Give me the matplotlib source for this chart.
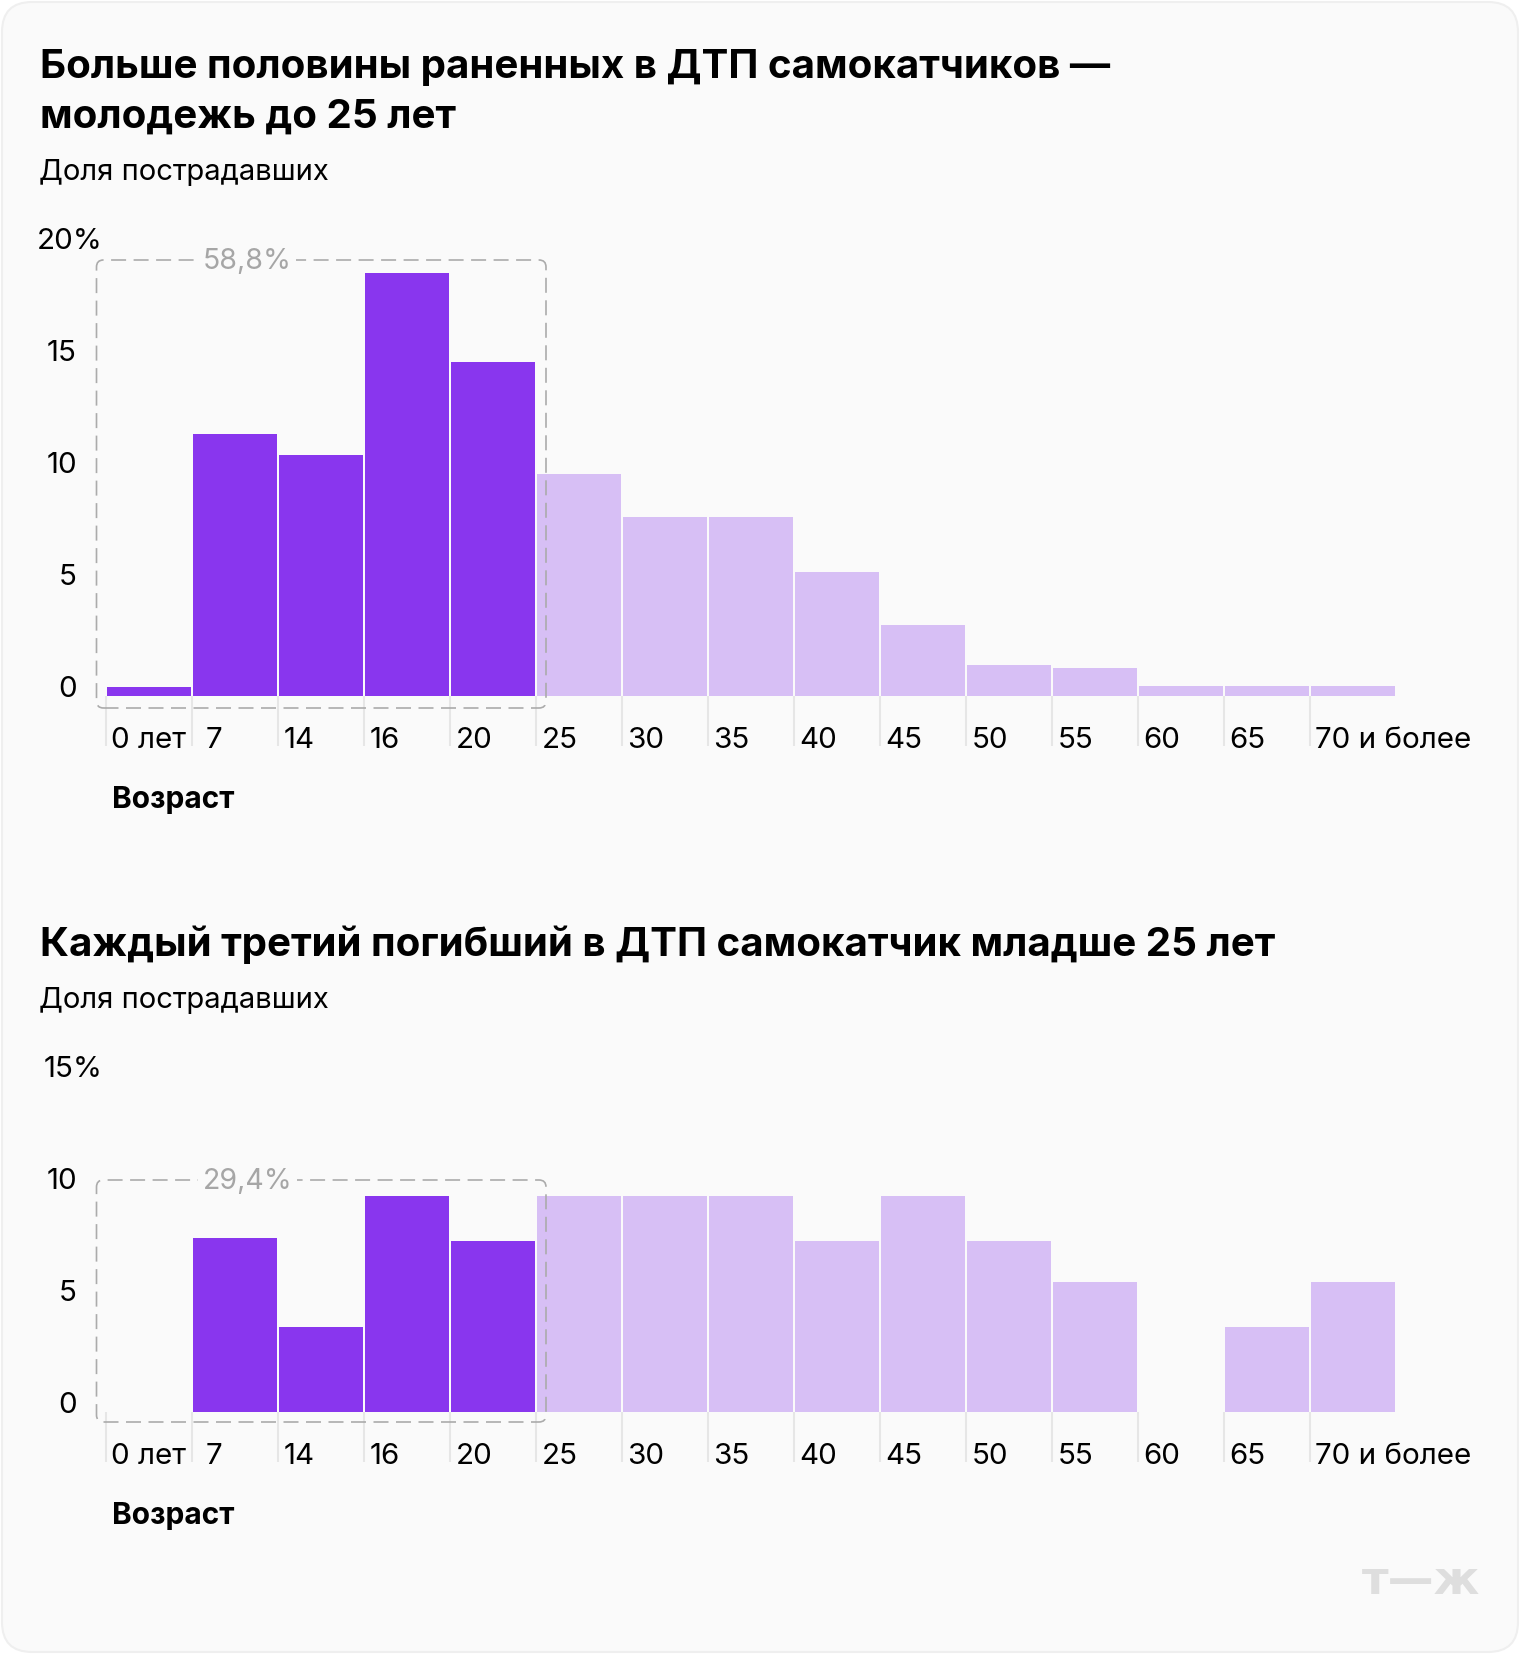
import matplotlib
matplotlib.use("Agg")
import matplotlib.pyplot as plt
from matplotlib.patches import FancyBboxPatch
from matplotlib.transforms import IdentityTransform, ScaledTranslation

plt.rcParams['font.family'] = ['Inter', 'DejaVu Sans']

W, H = 1520, 1654
BG = '#fafafa'
DARK = '#8936ee'
LIGHT = '#d7bff5'

ages = ['0 лет', '7', '14', '16', '20', '25', '30', '35', '40', '45', '50', '55', '60', '65', '70 и более']
injured = [0.4, 11.7, 10.75, 18.9, 14.9, 9.9, 8.0, 8.0, 5.55, 3.15, 1.4, 1.25, 0.45, 0.45, 0.45]
killed = [0, 7.75, 3.8, 9.65, 7.65, 9.65, 9.65, 9.65, 7.65, 9.65, 7.65, 5.8, 0, 3.8, 5.8]
young_count = 5

injured_ticks = [0, 5, 10, 15, 20]
killed_ticks = [0, 5, 10, 15]

fig = plt.figure(figsize=(W / 100, H / 100), dpi=100, facecolor='white')


def fx(x):
    return x / W


def fy(y):
    return 1 - y / H


def px_text(x, y, s, **kw):
    return fig.text(fx(x), fy(y), s, color=kw.pop('color', 'black'), va='center', **kw)


def dashed_box(x0, y0, x1, y1, label):
    box = FancyBboxPatch((x0, H - y1), x1 - x0, y1 - y0,
                         boxstyle='round,pad=0,rounding_size=7',
                         transform=IdentityTransform(), fill=False,
                         edgecolor='#ababab', linewidth=1.2,
                         linestyle=(0, (9, 4.5)), zorder=5)
    fig.add_artist(box)
    fig.text(fx(247.5), fy(y0 + 1), label, fontsize=20.5, color='#a6a6a6',
             ha='center', va='center', zorder=6,
             bbox=dict(facecolor=BG, edgecolor='none', pad=3))


def age_chart(values, ticks, top, bottom):
    # pixel box: one bar step is 86 px, one percent is 22.4 px
    ymax = ticks[-1]
    left, right = 106, 106 + 86 * len(values)
    ax = fig.add_axes([fx(left), fy(bottom), (right - left) / W, (bottom - top) / H])
    ax.patch.set_visible(False)
    pos = list(range(len(values)))
    colors = [DARK if i < young_count else LIGHT for i in pos]
    ax.bar([p + 0.008 for p in pos], values, width=0.975, align='edge', color=colors, linewidth=0, zorder=2)
    ax.set_xlim(-0.005, len(values) - 0.005)
    ax.set_ylim(0, ymax)
    for s in ax.spines.values():
        s.set_visible(False)

    ax.set_xticks(pos)
    ax.set_xticklabels(ages, fontsize=21.3, ha='left', color='black')
    ax.tick_params(axis='x', length=36, width=1.5, color='#e6e6e6', pad=-14)
    dx = ScaledTranslation(3.5 / 72, 0, fig.dpi_scale_trans)
    dx7 = ScaledTranslation(9.5 / 72, 0, fig.dpi_scale_trans)
    for lab in ax.get_xticklabels():
        lab.set_transform(lab.get_transform() + (dx7 if lab.get_text() == '7' else dx))

    ax.set_yticks(ticks)
    ax.set_yticklabels([f'{t}%' if t == ymax else str(t) for t in ticks], fontsize=21.3, color='black')
    ax.tick_params(axis='y', length=0, pad=21)
    up = ScaledTranslation(0, 6.7 / 72, fig.dpi_scale_trans)
    over = ScaledTranslation(18.3 / 72, 6.7 / 72, fig.dpi_scale_trans)
    for t, lab in zip(ticks, ax.get_yticklabels()):
        lab.set_transform(lab.get_transform() + (over if t == ymax else up))
    return ax


# card
fig.add_artist(FancyBboxPatch((2, 2), W - 4, H - 4, boxstyle='round,pad=0,rounding_size=30',
                              transform=IdentityTransform(), facecolor=BG,
                              edgecolor='#efefef', linewidth=1.5, zorder=0))

px_text(40, 67, 'Больше половины раненных в ДТП самокатчиков —', fontsize=29, fontweight='bold')
px_text(40, 117, 'молодежь до 25 лет', fontsize=29, fontweight='bold')
px_text(39, 172, 'Доля пострадавших', fontsize=21)

age_chart(injured, injured_ticks, 696 - 448, 696)
dashed_box(96.5, 260, 546, 708, '58,8%')
px_text(112, 800, 'Возраст', fontsize=21.5, fontweight='bold')

px_text(40, 945, 'Каждый третий погибший в ДТП самокатчик младше 25 лет', fontsize=29, fontweight='bold')
px_text(39, 1000, 'Доля пострадавших', fontsize=21)

age_chart(killed, killed_ticks, 1412 - 336, 1412)
dashed_box(96.5, 1180, 546, 1422, '29,4%')
px_text(112, 1516, 'Возраст', fontsize=21.5, fontweight='bold')

# logo
px_text(1480, 1581, 'т—ж', fontsize=33, fontweight='bold', color='#dedede', family='DejaVu Sans', ha='right')

fig.savefig('out.png', dpi=100, facecolor='white')
